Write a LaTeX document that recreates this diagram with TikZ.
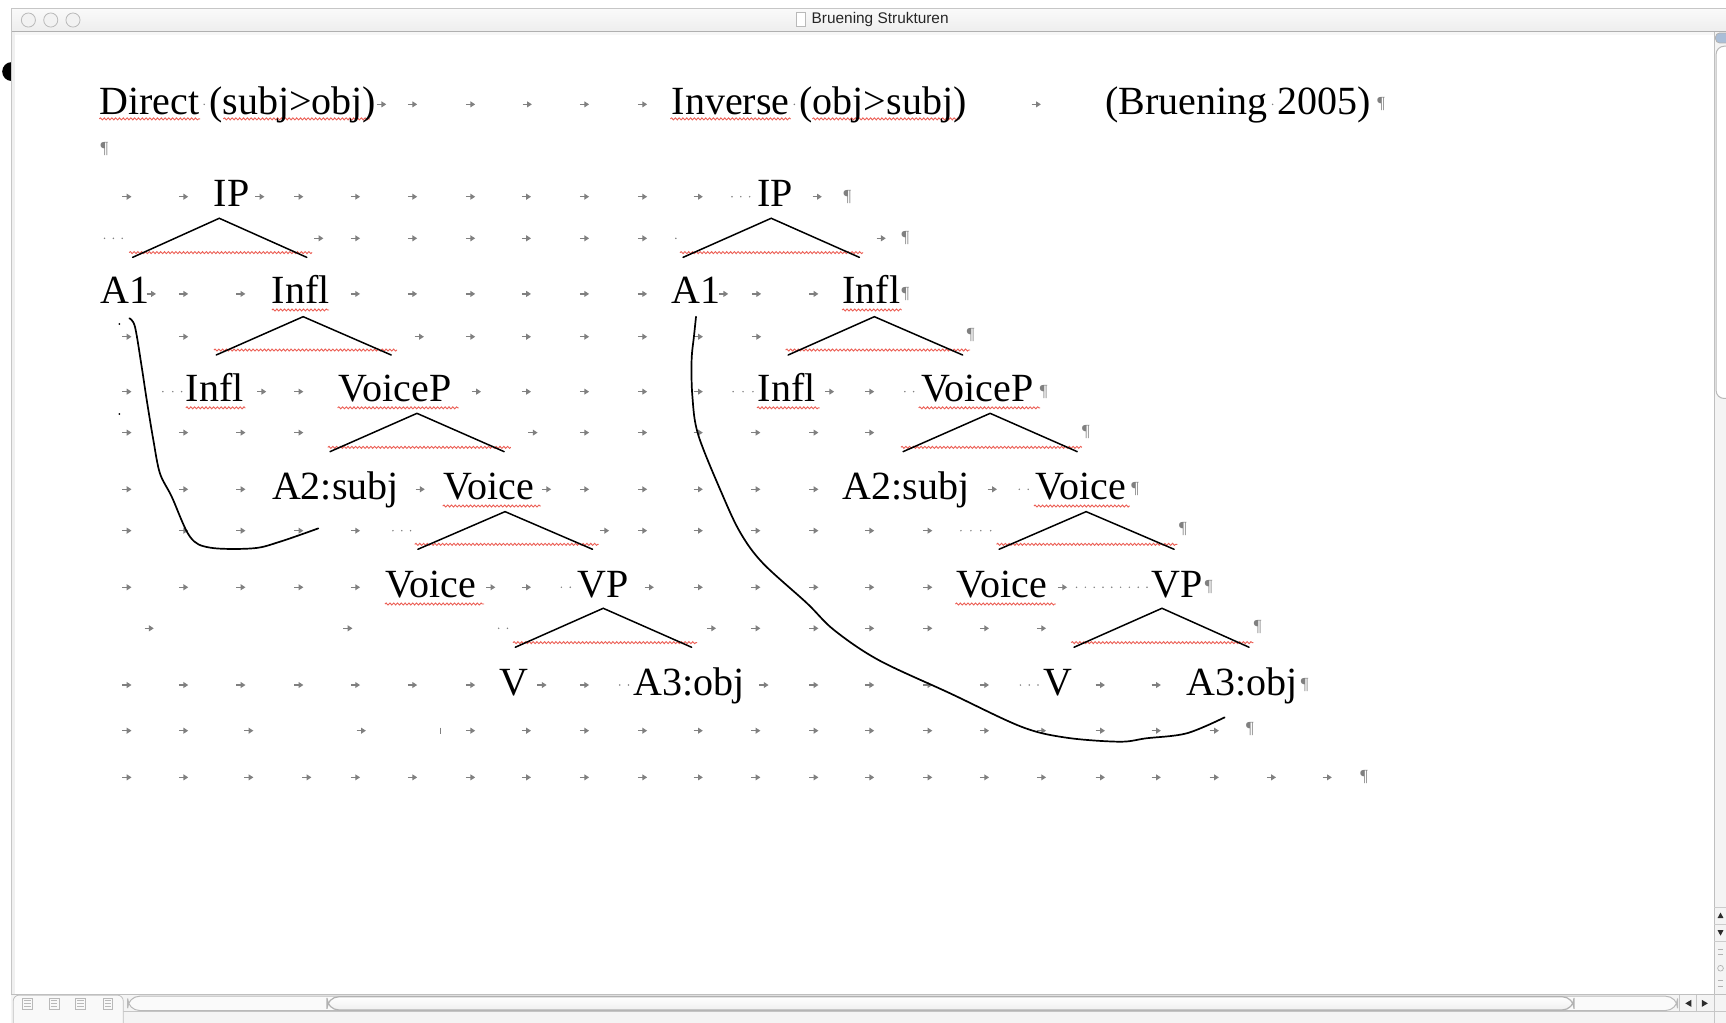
\documentclass[tikz,border=0pt]{standalone}
\usepackage{fontspec}
\setmainfont{Liberation Serif}
\newfontfamily\uisans{Liberation Sans}
\usetikzlibrary{arrows.meta,decorations.pathmorphing}
\definecolor{tabgray}{gray}{0.5}
\definecolor{pilgray}{gray}{0.5}
\definecolor{wavyred}{RGB}{236,95,85}
\definecolor{capblue}{RGB}{170,190,215}
\newcommand\tabrow[2]{\foreach \xx in {#2}{\draw[tabarrow] (\xx-4.2,#1) -- (\xx+4.2,#1);}}
\newcommand\sdots[2]{\foreach \xx in {#2}{\fill[tabgray] (\xx,#1) circle (0.75);}}
\begin{document}
\begin{tikzpicture}[x=0.5504pt, y=-0.5504pt,
  lbl/.style={anchor=base west, inner sep=0pt, outer sep=0pt, font=\fontsize{20}{24}\selectfont},
  pil/.style={anchor=west, inner sep=0pt, font=\fontsize{8.5}{9}\selectfont, text=pilgray},
  tabarrow/.style={draw=tabgray, line width=0.6pt, -{Triangle[length=2.4pt,width=2.9pt]}},
  tri/.style={line width=0.75pt, line cap=round, line join=miter},
  curve/.style={line width=0.85pt, line cap=round, line join=round},
  wavy/.style={draw=wavyred, line width=0.45pt, decorate, decoration={snake, amplitude=0.5pt, segment length=1.9pt}},
]
\useasboundingbox (0,0) rectangle (1568,929);
\fill[white] (0,0) rectangle (1568,929);

% ---------- window chrome ----------
\begin{scope}
  \clip (0,50) rectangle (10.6,80);
  \fill[black] (10.6,65) circle (8.6);
\end{scope}
\shade[top color=gray!4, bottom color=gray!14] (10,7.6) rectangle (1568,28.8);
\draw[gray!62, line width=0.9pt] (10,28.8) -- (1568,28.8);
\draw[gray!45, line width=0.3pt] (10,7.6) -- (1568,7.6);
\fill[gray!12] (10,29.3) rectangle (13.6,903);
\draw[gray!45, line width=0.3pt] (10,7.6) -- (10,929);
\fill[gray!6] (13.6,29.3) rectangle (1557,31.5);
\foreach \bx in {25.8,46.1,66.3}{\filldraw[fill=gray!10, draw=gray!55, line width=0.4pt] (\bx,18.2) circle (6.4);}
\filldraw[fill=white, draw=gray!55, line width=0.3pt] (723,11) rectangle (731.5,24);
\node[anchor=west, inner sep=0pt, font=\uisans\fontsize{7.7}{9}\selectfont, text=gray!30!black] (wtitle) at (737,17.8) {Bruening Strukturen};

% right scrollbar
\fill[gray!9] (1557,29.3) rectangle (1568,903);
\draw[gray!50, line width=0.4pt] (1557,29.3) -- (1557,903);
\draw[gray!55, fill=white, rounded corners=4pt, line width=0.5pt] (1559,42) rectangle (1576,362);
\filldraw[fill=capblue, draw=gray!60, line width=0.4pt, rounded corners=2pt] (1558.5,30) rectangle (1576,39);
\draw[gray!40, line width=0.3pt] (1557,824) -- (1568,824) (1557,839.5) -- (1568,839.5) (1557,855) -- (1568,855);
\fill[gray!35!black] (1560.3,834) -- (1565.7,834) -- (1563,829) -- cycle;
\fill[gray!35!black] (1560.3,845) -- (1565.7,845) -- (1563,850) -- cycle;
\draw[gray!60, line width=0.35pt] (1560.5,862) -- (1565.5,862) (1560.5,867) -- (1565.5,867);
\draw[gray!60, line width=0.35pt] (1563,879.6) circle (2.6);
\draw[gray!60, line width=0.35pt] (1560.5,891) -- (1565.5,891) (1560.5,896) -- (1565.5,896);

% bottom bar
\fill[gray!9] (10,903) rectangle (1568,929);
\draw[gray!50, line width=0.4pt] (10,903) -- (1568,903);
\draw[gray!45, line width=0.3pt] (112,919) -- (1568,919);
\draw[gray!50, fill=gray!5, rounded corners=3pt, line width=0.4pt] (12,904) rectangle (112,935);
\foreach \ix in {25,49,73,98}{
  \draw[gray!55, line width=0.35pt] (\ix-4.5,906.5) rectangle (\ix+4.5,916.5);
  \draw[gray!55, line width=0.3pt] (\ix-3,909) -- (\ix+3,909) (\ix-3,911.5) -- (\ix+3,911.5) (\ix-3,914) -- (\ix+3,914);
}
\draw[gray!55, fill=gray!4, rounded corners=6pt, line width=0.5pt] (116,905) rectangle (1524,918);
\shade[top color=white, bottom color=gray!12, draw=gray!60, rounded corners=6pt, line width=0.6pt] (297,905.5) rectangle (1430,917.5);
\draw[gray!45, line width=0.3pt] (1526,904) -- (1526,918) (1541,904) -- (1541,918) (1557,903) -- (1557,929);
\fill[gray!35!black] (1531,911.5) -- (1536.5,908.3) -- (1536.5,914.7) -- cycle;
\fill[gray!35!black] (1551.5,911.5) -- (1546,908.3) -- (1546,914.7) -- cycle;

% ---------- formatting marks ----------
\tabrow{94.8}{346.7,374.8,427.5,479,531,583.7,941.4}
\tabrow{178.7}{115.3,166.8,236,271.4,322.9,374.8,427.5,478.2,531,583.7,634.3,742.4}
\tabrow{216.5}{289.6,322.9,374.8,427.5,478.2,531,583.7,800.5}
\tabrow{267}{137.5,166.8,218.7,322.9,374.8,427.5,478.2,531,583.7,657.4,687.3,739.3}
\tabrow{305.9}{115.3,166.8,380.9,427.5,478.2,531,583.7,634.4,687.3}
\tabrow{355.8}{115.3,237.7,271.4,432.8,478.2,531,583.7,634.3,753.6,790}
\tabrow{393}{115.3,166.8,218.8,271.4,484.2,531,583.7,634.3,686.6,739.3,790}
\tabrow{444.5}{115.3,166.8,218.8,381.7,496.5,531,583.7,634.3,686.6,739.3,901.5}
\tabrow{482.1}{115.3,166.8,218.8,271.4,322.9,549.2,583.7,634.3,686.6,739.3,790,842.8}
\tabrow{533.5}{115.3,166.8,218.8,271.4,322.9,445.8,478.2,589.8,634.3,686.6,739.3,790,842.8,965.2}
\tabrow{570.8}{135.5,316,646.3,686.6,739.3,790,842.8,894.3,946.1}
\tabrow{622.3}{115.3,166.8,218.8,271.4,322.9,374.8,427.5,492.4,531,694,739.3,790,842.8,894.3,999.6,1050.4}
\tabrow{663.8}{115.3,166.8,226,328.2,427.5,478.2,531,583.7,634.3,686.6,739.3,790,842.8,894.3,946.1,999.6,1050.4,1103.1}
\tabrow{706.2}{115.3,166.8,226,278.7,322.9,374.8,427.5,478.2,531,583.7,634.3,686.6,739.3,790,842.8,894.3,946.1,999.6,1050.4,1103.1,1155,1205.7}

\sdots{94.8}{185.5,721.6,1156.1}
\sdots{178.7}{665,673,681}
\sdots{216.5}{95,103,111,614}
\sdots{355.8}{148,157,165,666,675,684,822,830}
\sdots{444.5}{926,934}
\sdots{482.1}{357,365,373,873,882,891,900}
\sdots{533.5}{510,518,978,986,994,1002,1010,1018,1026,1034,1042}
\sdots{570.8}{453,461}
\sdots{622.3}{563,571,927,935,943}
\draw[tabgray, line width=0.5pt] (400.4,661) -- (400.4,666.5);
\fill[black] (108.4,294.3) circle (0.9);
\fill[black] (108.4,376.1) circle (0.9);

\foreach \n/\px/\py in {p1/1251/94.8, p2/91/135, p3/766/178.7, p4/818.6/216.5, p5/818.6/267, p6/878/304.3, p7/944.2/355.8, p8/982.7/392.2, p9/1027.4/444.5, p10/1070.7/480.9, p11/1094.2/533.5, p12/1138.8/569.3, p13/1181.4/622.3, p14/1131.6/662.6, p15/1235.4/706.2}
  {\node[pil] (\n) at (\px,\py) {¶};}

% ---------- red wavy underlines ----------
\foreach \xa/\xb/\wy in {90.2/181.7/108, 202.9/336.1/108, 609/718.2/108, 738/872/108,
  247/299/281.6, 765/819/281.6,
  168.8/222.8/370.5, 306.7/416.6/370.5, 687.7/744.5/370.5, 834.6/945/370.5,
  402.2/491.4/459.7, 939.2/1026.5/459.7,
  349.7/439.7/548.7, 867.9/959.1/548.7,
  117.3/283.5/229.5, 617.7/784.2/229.5,
  194.3/360.7/318, 713.8/881.3/318,
  297.8/464/406.4, 818.4/982.9/406.4,
  376.8/543.9/494.5, 905.3/1069.5/494.5,
  466/633.2/583.8, 973.1/1138.7/583.8}
  {\draw[wavy] (\xa,\wy) -- (\xb,\wy);}

% ---------- text ----------
\node[lbl] (tDir) at (90.2,103.9) {Direct (subj>obj)};
\node[lbl] (tInv) at (610.3,103.9) {Inverse (obj>subj)};
\node[lbl] (tBru) at (1004.4,103.9) {(Bruening 2005)};

\node[lbl] (IPl) at (194.4,187.7) {IP};
\node[lbl] (A1l) at (91,276.1) {A1};
\node[lbl] (INFl) at (247,276.1) {Infl};
\node[lbl] (INFbl) at (168.8,364.9) {Infl};
\node[lbl] (VPPl) at (307.9,364.9) {VoiceP};
\node[lbl] (A2l) at (247.1,453.6) {A2:subj};
\node[lbl] (VOl) at (403.2,453.6) {Voice};
\node[lbl] (VObl) at (350.5,542.6) {Voice};
\node[lbl] (VPl) at (524.9,542.6) {VP};
\node[lbl] (Vl) at (453.9,631.4) {V};
\node[lbl] (A3l) at (575.6,631.4) {A3:obj};

\node[lbl] (IPr) at (688.2,187.7) {IP};
\node[lbl] (A1r) at (610.3,276.1) {A1};
\node[lbl] (INFr) at (765.3,276.1) {Infl};
\node[lbl] (INFbr) at (688.6,364.9) {Infl};
\node[lbl] (VPPr) at (836.7,364.9) {VoiceP};
\node[lbl] (A2r) at (765.7,453.6) {A2:subj};
\node[lbl] (VOr) at (940.9,453.6) {Voice};
\node[lbl] (VObr) at (869.1,542.6) {Voice};
\node[lbl] (VPr) at (1046.3,542.6) {VP};
\node[lbl] (Vr) at (948.2,631.4) {V};
\node[lbl] (A3r) at (1078,631.4) {A3:obj};

% ---------- triangles ----------
\foreach \n/\ax/\ay/\lx/\rx/\fy in {
  Tl1/199.2/198.3/120.5/278.7/233.8, Tr1/700.6/198.3/620.5/780.7/233.8,
  Tl2/275.4/287.7/196.4/355.4/322.5, Tr2/794.3/287.7/716/874.5/322.5,
  Tl3/378.8/375.5/299.8/458/410.3, Tr3/899.5/375.5/820.4/978.6/410.3,
  Tl4/458.8/464.8/379.6/538.3/499, Tr4/986.7/464.8/907.6/1066.6/499,
  Tl5/548/552.6/468.1/628.3/588, Tr5/1055.6/552.6/975.7/1134.7/588}
{
  \coordinate (\n a) at (\ax,\ay);
  \coordinate (\n l) at (\lx,\fy);
  \coordinate (\n r) at (\rx,\fy);
  \draw[tri] (\n l) -- (\n a) -- (\n r);
}

% ---------- movement curves ----------
\draw[curve] plot[smooth, tension=0.55] coordinates {(117.5,289.2) (122.6,296.8) (128.7,333.1) (133.3,363.4) (139.3,399.7) (145.3,430) (156,451.2) (172.6,487.6) (190.8,497.5) (230.2,498.1) (254.4,492.1) (289.2,480)};
\draw[curve] plot[smooth, tension=0.55] coordinates {(632.3,287.7) (630.5,305) (628.3,327) (629,360) (634.3,395) (656.5,450) (672.9,484.5) (693.1,511.7) (733.2,548.1) (757.6,572.3) (798.1,599.6) (863,629.8) (927.9,660.2) (968.4,670.1) (1017.1,673.8) (1041.4,670.7) (1078,666.2) (1112.5,651.7)};
\end{tikzpicture}
\end{document}
